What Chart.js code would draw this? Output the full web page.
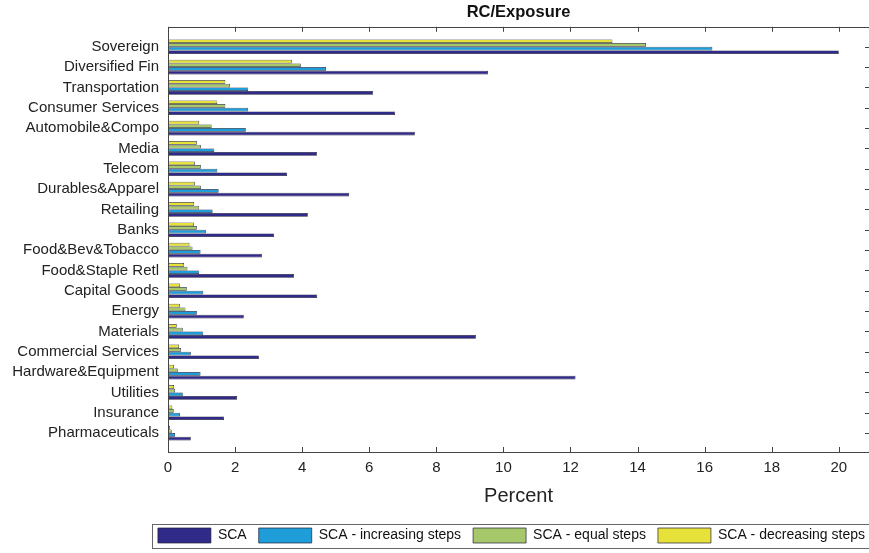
<!DOCTYPE html>
<html>
<head>
<meta charset="utf-8">
<script src="https://cdn.jsdelivr.net/npm/chart.js@4.4.0/dist/chart.umd.min.js"></script>
<style>
  html, body { margin: 0; padding: 0; background: #fff; }
</style>
</head>
<body>
<canvas id="rcChart" width="869" height="553"></canvas>
<script>
const sectors = [
  'Sovereign', 'Diversified Fin', 'Transportation', 'Consumer Services', 'Automobile&Compo',
  'Media', 'Telecom', 'Durables&Apparel', 'Retailing', 'Banks',
  'Food&Bev&Tobacco', 'Food&Staple Retl', 'Capital Goods', 'Energy', 'Materials',
  'Commercial Services', 'Hardware&Equipment', 'Utilities', 'Insurance', 'Pharmaceuticals'
];
const sca           = [20.0, 9.54, 6.11, 6.77, 7.36, 4.44, 3.55, 5.40, 4.17, 3.16, 2.80, 3.76, 4.45, 2.26, 9.18, 2.71, 12.15, 2.06, 1.67, 0.68];
const scaIncreasing = [16.23, 4.71, 2.39, 2.39, 2.32, 1.38, 1.47, 1.51, 1.33, 1.13, 0.97, 0.93, 1.05, 0.86, 1.05, 0.68, 0.97, 0.44, 0.36, 0.21];
const scaEqual      = [14.25, 3.96, 1.85, 1.71, 1.30, 0.98, 0.98, 0.98, 0.93, 0.86, 0.73, 0.58, 0.56, 0.52, 0.44, 0.39, 0.29, 0.21, 0.17, 0.11];
const scaDecreasing = [13.25, 3.69, 1.71, 1.47, 0.93, 0.86, 0.80, 0.80, 0.78, 0.77, 0.64, 0.48, 0.36, 0.36, 0.26, 0.33, 0.18, 0.18, 0.13, 0.06];
const xTicks = [0, 2, 4, 6, 8, 10, 12, 14, 16, 18, 20];

const FONT = 'Liberation Sans, Arial, sans-serif';
const toPoints = arr => arr.map((v, i) => ({ x: v, y: i }));

// box around the plot with inward ticks, plus the frame around the legend
const matlabBox = {
  id: 'matlabBox',
  afterLayout(chart) {
    // legend sits a bit further right in the original
    chart.legend.left += 8;
    chart.legend.right += 8;
  },
  afterDraw(chart) {
    const { ctx, chartArea: a, scales } = chart;
    ctx.save();
    ctx.strokeStyle = '#444';
    ctx.lineWidth = 1;
    ctx.strokeRect(Math.round(a.left) + 0.5, Math.round(a.top) + 0.5, Math.round(a.width), Math.round(a.height));
    ctx.beginPath();
    xTicks.forEach(v => {
      const px = Math.round(scales.x.getPixelForValue(v)) + 0.5;
      ctx.moveTo(px, a.top); ctx.lineTo(px, a.top + 5);
      ctx.moveTo(px, a.bottom); ctx.lineTo(px, a.bottom - 5);
    });
    sectors.forEach((s, i) => {
      const py = Math.round(scales.y.getPixelForValue(i)) + 0.5;
      ctx.moveTo(a.right, py); ctx.lineTo(a.right - 4, py);
    });
    ctx.stroke();

    const boxes = chart.legend.legendHitBoxes;
    if (boxes && boxes.length) {
      const left = Math.min(...boxes.map(b => b.left)) - 6;
      const top = Math.min(...boxes.map(b => b.top)) - 4;
      const bottom = Math.max(...boxes.map(b => b.top + b.height)) + 5;
      ctx.strokeStyle = '#666';
      ctx.strokeRect(Math.round(left) + 0.5, Math.round(top) + 0.5, chart.width + 10 - left, Math.round(bottom - top));
    }
    ctx.restore();
  }
};

const ctx = document.getElementById('rcChart').getContext('2d');
new Chart(ctx, {
  type: 'bar',
  data: {
    datasets: [
      { label: 'SCA - decreasing steps', data: toPoints(scaDecreasing), backgroundColor: '#e6e23a' },
      { label: 'SCA - equal steps', data: toPoints(scaEqual), backgroundColor: '#a6c86a' },
      { label: 'SCA - increasing steps', data: toPoints(scaIncreasing), backgroundColor: '#1e9dd8' },
      { label: 'SCA', data: toPoints(sca), backgroundColor: '#302a88' }
    ]
  },
  options: {
    indexAxis: 'y',
    responsive: false,
    animation: false,
    layout: { padding: { left: 0, right: 0, top: 0, bottom: 0 } },
    datasets: {
      bar: {
        borderColor: '#20203a',
        borderWidth: 0.7,
        borderSkipped: false,
        categoryPercentage: 0.72,
        barPercentage: 1.0
      }
    },
    plugins: {
      title: {
        display: true,
        fullSize: false,
        text: 'RC/Exposure',
        color: '#111',
        font: { family: FONT, size: 16.5, weight: 'bold' },
        padding: { top: 3, bottom: 4 }
      },
      legend: {
        display: true,
        position: 'bottom',
        align: 'end',
        reverse: true,
        labels: {
          boxWidth: 53,
          boxHeight: 15,
          padding: 12,
          color: '#111',
          font: { family: FONT, size: 14 }
        }
      },
      tooltip: { enabled: false }
    },
    scales: {
      x: {
        type: 'linear',
        min: 0,
        max: 20.9,
        afterBuildTicks: axis => { axis.ticks = xTicks.map(v => ({ value: v })); },
        afterFit: axis => { axis.height = 64; },
        ticks: { color: '#222', padding: 7, font: { family: FONT, size: 15 } },
        grid: { display: false, drawTicks: false },
        border: { display: false },
        title: {
          display: true,
          text: 'Percent',
          color: '#222',
          font: { family: FONT, size: 20 },
          padding: { top: 4, bottom: 8 }
        }
      },
      y: {
        type: 'linear',
        reverse: true,
        offset: false,
        min: -0.98,
        max: 19.93,
        afterBuildTicks: axis => { axis.ticks = sectors.map((s, i) => ({ value: i })); },
        afterFit: axis => { axis.width = 168; },
        ticks: {
          autoSkip: false,
          color: '#222',
          padding: 9,
          font: { family: FONT, size: 15 },
          callback: v => sectors[v]
        },
        grid: { display: false, drawTicks: false, offset: false },
        border: { display: false }
      }
    }
  },
  plugins: [matlabBox]
});
</script>
</body>
</html>
